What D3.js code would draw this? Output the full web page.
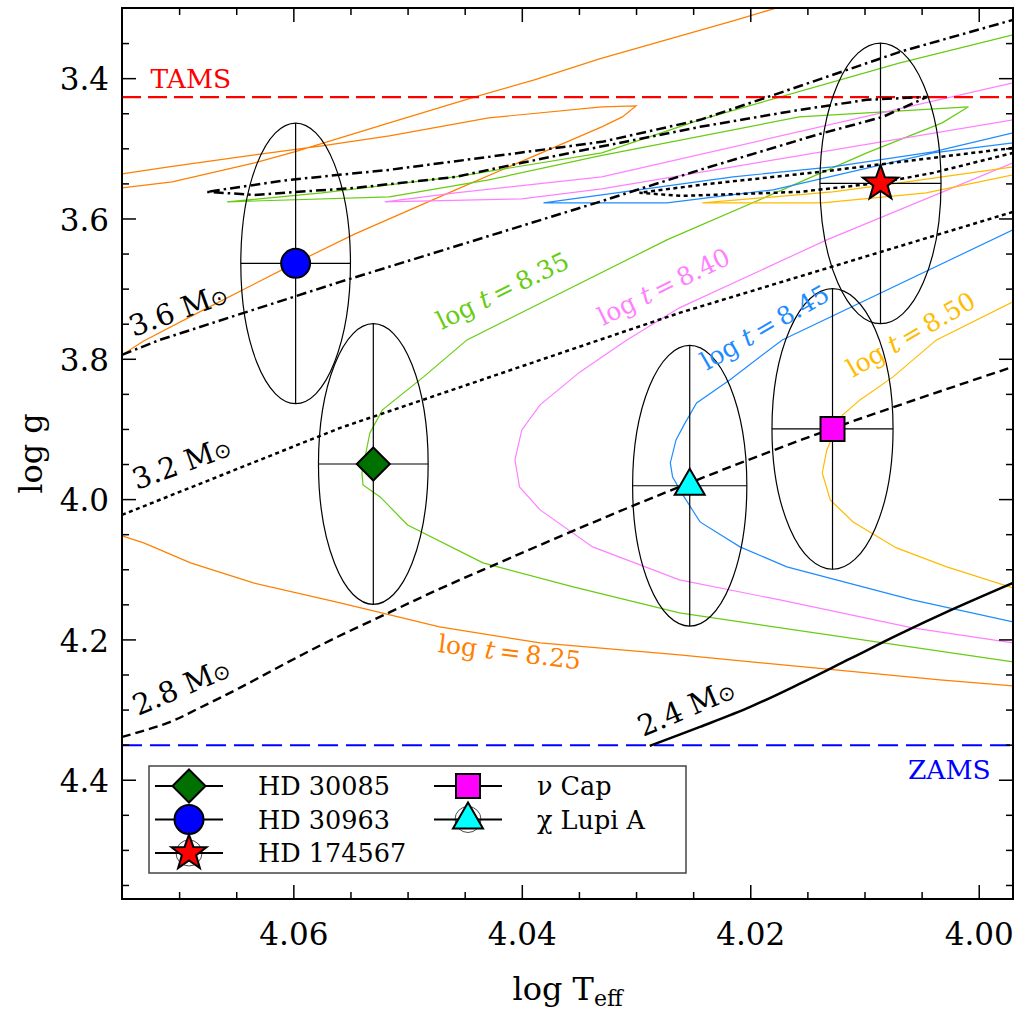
<!DOCTYPE html>
<html>
<head>
<meta charset="utf-8">
<script src="https://cdn.jsdelivr.net/npm/d3@7"></script>
<style>
  body { margin: 0; background: #fff; }
  text { font-family: "DejaVu Serif", serif; }
</style>
</head>
<body>
<svg id="chart" width="1016" height="1013"></svg>
<script>
// axis ranges and ticks
const xDomain = [4.075, 3.997];
const yDomain = [3.30, 4.57];
const xMajor = [4.06, 4.04, 4.02, 4.00];
const yMajor = [3.4, 3.6, 3.8, 4.0, 4.2, 4.4];
const xMinor = d3.range(0, 16).map(i => +(4.07 - i * 0.005).toFixed(3)).filter(v => v > 3.997 && !xMajor.includes(v));
const yMinor = d3.range(0, 26).map(i => +(3.35 + i * 0.05).toFixed(2)).filter(v => v < 4.57 && !yMajor.includes(v));

const tamsLogg = 3.427;
const zamsLogg = 4.351;

// stars: log Teff, log g and error ellipse half-axes
const starNames = ["HD 30085", "HD 30963", "HD 174567", "ν Cap", "χ Lupi A"];
const starLogT = [4.0530, 4.0598, 4.0086, 4.0128, 4.0253];
const starLogg = [3.950, 3.664, 3.550, 3.900, 3.981];
const starErrT = [0.0048, 0.0048, 0.0053, 0.0053, 0.0050];
const starErrG = [0.2, 0.2, 0.2, 0.2, 0.2];
const starShape = ["diamond", "circle", "star", "square", "triangle"];
const starFill = ["#007000", "#0000ff", "#ff0000", "#ff00ff", "#00ffff"];

// evolutionary tracks [logT, logg]
const track24 = [[4.0288,4.3518],[4.0244,4.3247],[4.0200,4.2962],[4.0157,4.2634],[4.0113,4.2278],[4.0069,4.1922],[4.0026,4.1594],[3.9970,4.1195]];
const track28 = [[4.0750,4.3390],[4.0710,4.3190],[4.0682,4.2976],[4.0647,4.2691],[4.0606,4.2335],[4.0565,4.1993],[4.0515,4.1608],[4.0472,4.1280],[4.0428,4.0966],[4.0349,4.0411],[4.0262,3.9826],[4.0129,3.8999],[3.9970,3.8115]];
const track32 = [[4.0750,4.0225],[4.0559,3.8985],[4.0332,3.7731],[4.0262,3.7346],[3.9970,3.5906],[3.9947,3.5521],[3.9970,3.5065],[4.0040,3.5350],[4.0087,3.5493],[4.0157,3.5621],[4.0259,3.5678],[4.0297,3.5635],[4.0244,3.5521],[4.0139,3.5336],[3.9970,3.4994]];
const track36 = [[4.0750,3.7944],[4.0717,3.7731],[4.0559,3.6904],[4.0332,3.5763],[4.0244,3.5307],[4.0142,3.4808],[4.0084,3.4552],[4.0045,3.4267],[4.0098,3.4309],[4.0157,3.4452],[4.0244,3.4694],[4.0332,3.4979],[4.0400,3.5207],[4.0458,3.5407],[4.0546,3.5564],[4.0634,3.5664],[4.0676,3.5621],[4.0604,3.5450],[4.0516,3.5307],[4.0429,3.5122],[4.0330,3.4908],[4.0244,3.4594],[4.0192,3.4309],[4.0069,3.3625],[3.9970,3.3169]];

// isochrones [logT, logg]
const iso825 = [[3.9970,4.2663],[4.0034,4.2577],[4.0262,4.2221],[4.0384,4.2050],[4.0472,4.1822],[4.0559,4.1480],[4.0635,4.1195],[4.0690,4.0909],[4.0731,4.0624],[4.0750,4.0525],[4.0778,3.9299],[4.0750,3.7944],[4.0731,3.7745],[4.0682,3.7331],[4.0598,3.6633],[4.0546,3.6220],[4.0458,3.5592],[4.0330,3.4694],[4.0312,3.4552],[4.0300,3.4395],[4.0330,3.4409],[4.0429,3.4566],[4.0516,3.4822],[4.0575,3.4965],[4.0634,3.5093],[4.0709,3.5264],[4.0750,3.5364],[4.0778,3.5464],[4.0750,3.5564],[4.0706,3.5478],[4.0634,3.5207],[4.0599,3.5051],[4.0516,3.4637],[4.0438,3.4252],[4.0389,3.4024],[4.0332,3.3725],[4.0212,3.3169],[4.0174,3.2984]];
const iso835 = [[3.9970,4.2321],[4.0262,4.1622],[4.0355,4.1252],[4.0434,4.0909],[4.0500,4.0368],[4.0524,3.9969],[4.0539,3.9798],[4.0540,3.9627],[4.0533,3.9056],[4.0522,3.8728],[4.0486,3.8258],[4.0448,3.7731],[4.0273,3.6305],[4.0186,3.5692],[4.0098,3.5065],[4.0032,3.4637],[4.0009,3.4409],[4.0157,3.4552],[4.0332,3.5108],[4.0429,3.5450],[4.0516,3.5692],[4.0658,3.5763],[4.0575,3.5635],[4.0458,3.5407],[4.0330,3.5065],[4.0244,3.4594],[4.0069,3.3782],[3.9970,3.3383]];
const iso840 = [[3.9970,4.2050],[4.0058,4.1836],[4.0174,4.1437],[4.0262,4.1152],[4.0338,4.0681],[4.0384,4.0154],[4.0402,3.9826],[4.0406,3.9441],[4.0400,3.9014],[4.0384,3.8657],[4.0349,3.8187],[4.0308,3.7731],[4.0262,3.7274],[4.0133,3.6305],[3.9970,3.5207],[3.9947,3.4880],[3.9970,3.4594],[4.0330,3.5578],[4.0400,3.5721],[4.0520,3.5763],[4.0458,3.5635],[4.0330,3.5407],[3.9970,3.4067]];
const iso845 = [[3.9970,4.1751],[4.0058,4.1437],[4.0168,4.0966],[4.0209,4.0681],[4.0244,4.0325],[4.0259,3.9940],[4.0268,3.9684],[4.0270,3.9484],[4.0265,3.9156],[4.0258,3.8942],[4.0247,3.8629],[4.0218,3.8301],[4.0172,3.7731],[3.9970,3.6162],[3.9947,3.5592],[3.9970,3.4922],[4.0040,3.5065],[4.0180,3.5592],[4.0273,3.5778],[4.0330,3.5778],[4.0381,3.5778],[4.0330,3.5664],[4.0215,3.5407],[4.0128,3.5264],[4.0040,3.5051],[3.9970,3.4780]];
const iso850 = [[3.9970,4.1266],[4.0028,4.0966],[4.0072,4.0696],[4.0110,4.0325],[4.0130,4.0011],[4.0137,3.9627],[4.0133,3.9299],[4.0128,3.9113],[4.0119,3.8800],[4.0104,3.8586],[4.0075,3.8258],[4.0037,3.7731],[3.9970,3.7189],[3.9947,3.6305],[3.9970,3.5378],[4.0046,3.5635],[4.0137,3.5778],[4.0242,3.5778],[4.0128,3.5621],[4.0069,3.5493],[3.9970,3.5264]];

// labels
const isoAges = ["8.25", "8.35", "8.40", "8.45", "8.50"];
const isoColors = ["#ff7f00", "#66cc11", "#ff80ff", "#1e8cff", "#ffbb00"];
const isoLabelT = [4.0474, 4.0470, 4.0329, 4.0238, 4.0110];
const isoLabelG = [4.2178, 3.7588, 3.7531, 3.8172, 3.8272];
const isoLabelAngle = [7, -26, -26, -30, -30];

const trackMasses = ["2.4", "2.8", "3.2", "3.6"];
const trackLabelT = [4.0294, 4.0736, 4.0737, 4.0740];
const trackLabelG = [4.3390, 4.3090, 3.9869, 3.7688];
const trackLabelAngle = [-23, -23, -20, -20];

// ---------------------------------------------------------------
const plot = {left: 122, right: 1013, top: 8, bottom: 899};
const svg = d3.select("#chart");
const x = d3.scaleLinear().domain(xDomain).range([plot.left, plot.right]);
const y = d3.scaleLinear().domain(yDomain).range([plot.top, plot.bottom]);

svg.append("defs").append("clipPath").attr("id", "clip").append("rect")
  .attr("x", plot.left).attr("y", plot.top)
  .attr("width", plot.right - plot.left).attr("height", plot.bottom - plot.top);

const g = svg.append("g").attr("clip-path", "url(#clip)");

const line = d3.line().x(d => x(d[0])).y(d => y(d[1]));
const smooth = d3.line().x(d => x(d[0])).y(d => y(d[1])).curve(d3.curveCatmullRom.alpha(0.5));

// isochrones
[iso825, iso835, iso840, iso845, iso850].forEach((pts, i) => {
  g.append("path").attr("d", line(pts))
    .attr("fill", "none").attr("stroke", isoColors[i]).attr("stroke-width", 1.2);
});

// TAMS / ZAMS
g.append("line").attr("x1", x(xDomain[0])).attr("x2", x(xDomain[1]))
  .attr("y1", y(tamsLogg)).attr("y2", y(tamsLogg))
  .attr("stroke", "#ff0000").attr("stroke-width", 2.3).attr("stroke-dasharray", "19,7");
g.append("line").attr("x1", x(xDomain[0])).attr("x2", x(xDomain[1]))
  .attr("y1", y(zamsLogg)).attr("y2", y(zamsLogg))
  .attr("stroke", "#0000ff").attr("stroke-width", 2).attr("stroke-dasharray", "20,8");

// tracks
g.append("path").attr("d", smooth(track24)).attr("fill", "none").attr("stroke", "#000").attr("stroke-width", 2.5);
g.append("path").attr("d", smooth(track28)).attr("fill", "none").attr("stroke", "#000").attr("stroke-width", 2.4).attr("stroke-dasharray", "9,5");
g.append("path").attr("d", line(track32)).attr("fill", "none").attr("stroke", "#000").attr("stroke-width", 2.5).attr("stroke-dasharray", "4,3.5");
g.append("path").attr("d", line(track36)).attr("fill", "none").attr("stroke", "#000").attr("stroke-width", 2.5).attr("stroke-dasharray", "10,4,2.5,4");

// error ellipses with crosses
starNames.forEach((n, i) => {
  const cx = x(starLogT[i]), cy = y(starLogg[i]);
  const rx = x(starLogT[i] - starErrT[i]) - cx;
  const ry = y(starLogg[i] + starErrG[i]) - cy;
  g.append("ellipse").attr("cx", cx).attr("cy", cy).attr("rx", rx).attr("ry", ry)
    .attr("fill", "none").attr("stroke", "#000").attr("stroke-width", 1.2);
  g.append("line").attr("x1", cx - rx).attr("x2", cx + rx).attr("y1", cy).attr("y2", cy)
    .attr("stroke", "#000").attr("stroke-width", 1.2);
  g.append("line").attr("x1", cx).attr("x2", cx).attr("y1", cy - ry).attr("y2", cy + ry)
    .attr("stroke", "#000").attr("stroke-width", 1.2);
});

function markerPath(shape) {
  if (shape === "circle") return "M14.5,0A14.5,14.5 0 1,1 -14.5,0A14.5,14.5 0 1,1 14.5,0Z";
  if (shape === "diamond") return "M0,-16.5L16.5,0L0,16.5L-16.5,0Z";
  if (shape === "square") return "M-12,-12L12,-12L12,12L-12,12Z";
  if (shape === "triangle") return "M0,-17L15,9L-15,9Z";
  const pts = d3.range(10).map(k => {
    const a = -Math.PI / 2 + k * Math.PI / 5, r = k % 2 ? 7.5 : 18.5;
    return [r * Math.cos(a), r * Math.sin(a)];
  });
  return "M" + pts.join("L") + "Z";
}

// markers
starNames.forEach((n, i) => {
  svg.append("path").attr("d", markerPath(starShape[i]))
    .attr("transform", `translate(${x(starLogT[i])},${y(starLogg[i])})`)
    .attr("fill", starFill[i]).attr("stroke", "#000").attr("stroke-width", 2)
    .attr("stroke-linejoin", "miter");
});

// labels on the plot
const labels = svg.append("g").attr("clip-path", "url(#clip)");
labels.append("text").attr("x", x(4.0725)).attr("y", y(3.414))
  .attr("fill", "#ff0000").attr("font-size", 26.5).text("TAMS");
labels.append("text").attr("x", x(4.0062)).attr("y", y(4.399))
  .attr("fill", "#0000ff").attr("font-size", 26.5).text("ZAMS");

isoAges.forEach((age, i) => {
  const t = labels.append("text")
    .attr("transform", `translate(${x(isoLabelT[i])},${y(isoLabelG[i])}) rotate(${isoLabelAngle[i]})`)
    .attr("fill", isoColors[i]).attr("font-size", 25);
  t.append("tspan").text("log ");
  t.append("tspan").attr("font-style", "italic").text("t");
  t.append("tspan").text("\u2009=\u2009" + age);
});

trackMasses.forEach((m, i) => {
  const t = labels.append("text")
    .attr("transform", `translate(${x(trackLabelT[i])},${y(trackLabelG[i])}) rotate(${trackLabelAngle[i]})`)
    .attr("fill", "#000").attr("font-size", 29);
  t.append("tspan").text(m + " M");
  t.append("tspan").attr("font-size", "0.72em").attr("font-family", "DejaVu Sans").text("\u2299");
});

// axes
function styleAxis(sel) {
  sel.select(".domain").remove();
  sel.selectAll(".tick line").attr("stroke", "#000").attr("stroke-width", 1.5);
  sel.selectAll(".tick text").attr("fill", "#000");
  sel.attr("font-family", "DejaVu Serif").attr("font-size", 31);
}
const axBottom = svg.append("g").attr("transform", `translate(0,${plot.bottom})`);
axBottom.call(d3.axisBottom(x).tickValues(xMajor).tickSize(-14).tickPadding(24).tickFormat(d3.format(".2f"))).call(styleAxis);
axBottom.append("g").call(d3.axisBottom(x).tickValues(xMinor).tickSize(-7).tickFormat("")).call(styleAxis);
const axTop = svg.append("g").attr("transform", `translate(0,${plot.top})`);
axTop.call(d3.axisTop(x).tickValues(xMajor).tickSize(-14).tickFormat("")).call(styleAxis);
axTop.append("g").call(d3.axisTop(x).tickValues(xMinor).tickSize(-7).tickFormat("")).call(styleAxis);
const axLeft = svg.append("g").attr("transform", `translate(${plot.left},0)`);
axLeft.call(d3.axisLeft(y).tickValues(yMajor).tickSize(-14).tickPadding(13).tickFormat(d3.format(".1f"))).call(styleAxis);
axLeft.selectAll(".tick text").attr("dy", "0.38em");
axLeft.append("g").call(d3.axisLeft(y).tickValues(yMinor).tickSize(-7).tickFormat("")).call(styleAxis);
const axRight = svg.append("g").attr("transform", `translate(${plot.right},0)`);
axRight.call(d3.axisRight(y).tickValues(yMajor).tickSize(-14).tickFormat("")).call(styleAxis);
axRight.append("g").call(d3.axisRight(y).tickValues(yMinor).tickSize(-7).tickFormat("")).call(styleAxis);

svg.append("rect").attr("x", plot.left).attr("y", plot.top)
  .attr("width", plot.right - plot.left).attr("height", plot.bottom - plot.top)
  .attr("fill", "none").attr("stroke", "#000").attr("stroke-width", 2);

// axis titles
svg.append("text").attr("transform", "translate(42,453.5) rotate(-90)")
  .attr("text-anchor", "middle").attr("font-size", 32).text("log g");
const xt = svg.append("text").attr("x", (plot.left + plot.right) / 2).attr("y", 1000)
  .attr("text-anchor", "middle").attr("font-size", 32);
xt.append("tspan").text("log T");
xt.append("tspan").attr("font-size", 22).attr("dy", 6).text("eff");

// legend
const legend = svg.append("g");
legend.append("rect").attr("x", 149).attr("y", 766).attr("width", 537).attr("height", 107)
  .attr("fill", "#fff").attr("stroke", "#444").attr("stroke-width", 1.5);
const legPos = [[189, 786], [189, 819.5], [189, 853], [468, 786], [468, 819.5]];
starNames.forEach((n, i) => {
  const [lx, ly] = legPos[i];
  const item = legend.append("g").attr("transform", `translate(${lx},${ly})`);
  item.append("line").attr("x1", -34).attr("x2", 34).attr("stroke", "#000").attr("stroke-width", 2.2);
  if (starShape[i] === "star" || starShape[i] === "triangle") {
    item.append("circle").attr("r", 13).attr("fill", "none").attr("stroke", "#000").attr("stroke-width", 0.7);
  }
  item.append("path").attr("d", markerPath(starShape[i]))
    .attr("fill", starFill[i]).attr("stroke", "#000").attr("stroke-width", 2);
  item.append("text").attr("x", 69).attr("y", 9).attr("font-size", 25.5).text(n);
});
</script>
</body>
</html>
